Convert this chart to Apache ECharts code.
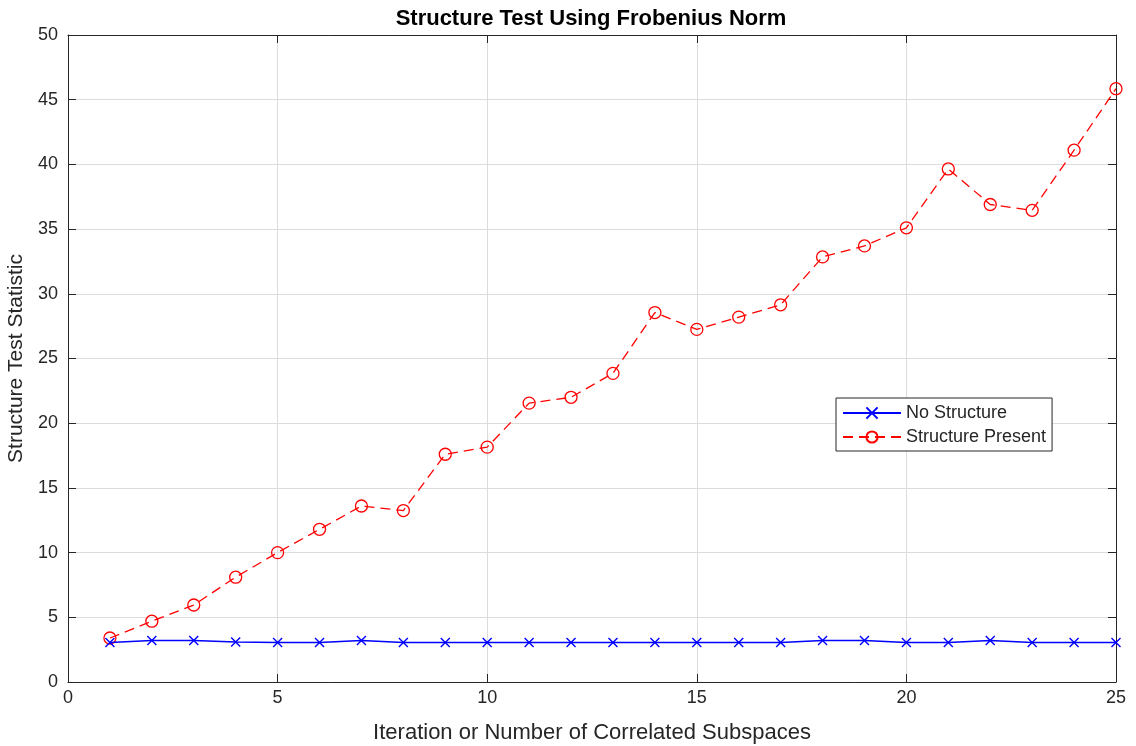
<!DOCTYPE html>
<html>
<head>
<meta charset="utf-8">
<script src="https://cdn.jsdelivr.net/npm/echarts@6/dist/echarts.min.js"></script>
<style>
  html, body { margin: 0; padding: 0; background: #fff; }
  #chart { width: 1136px; height: 746px; }
</style>
</head>
<body>
<div id="chart"></div>
<script>
// Iteration index (number of correlated subspaces)
const iterations = [1,2,3,4,5,6,7,8,9,10,11,12,13,14,15,16,17,18,19,20,21,22,23,24,25];
// Test statistic without correlated structure
const noStructure = [3.05,3.2,3.2,3.1,3.05,3.05,3.2,3.05,3.05,3.05,3.05,3.05,3.05,3.05,3.05,3.05,3.05,3.2,3.2,3.05,3.05,3.2,3.05,3.05,3.05];
// Test statistic with correlated structure present
const structurePresent = [3.4,4.7,5.95,8.1,10.0,11.8,13.6,13.25,17.6,18.15,21.55,22.0,23.85,28.55,27.25,28.2,29.15,32.85,33.7,35.1,39.65,36.9,36.45,41.1,45.85];
const xTicks = { min: 0, max: 25, step: 5 };
const yTicks = { min: 0, max: 50, step: 5 };

const axisColor = '#262626';
const textColor = '#262626';
const font = 'Liberation Sans, Arial, Helvetica, sans-serif';

const pairs = (xs, ys) => xs.map((x, i) => [x, ys[i]]);

const chart = echarts.init(document.getElementById('chart'), null, { renderer: 'canvas' });

const baseX = {
  type: 'value', min: xTicks.min, max: xTicks.max, interval: xTicks.step,
  axisLine: { show: true, onZero: false, lineStyle: { color: axisColor, width: 1 } },
  axisTick: { show: true, inside: true, length: 8, lineStyle: { color: axisColor } },
  splitLine: { show: false }
};
const baseY = {
  type: 'value', min: yTicks.min, max: yTicks.max, interval: yTicks.step,
  axisLine: { show: true, onZero: false, lineStyle: { color: axisColor, width: 1 } },
  axisTick: { show: true, inside: true, length: 8, lineStyle: { color: axisColor } },
  splitLine: { show: false }
};

chart.setOption({
  animation: false,
  backgroundColor: '#ffffff',
  title: {
    text: 'Structure Test Using Frobenius Norm',
    left: 586, top: 3, textAlign: 'center',
    textStyle: { fontFamily: font, fontSize: 22, fontWeight: 'bold', color: '#000' }
  },
  grid: { left: 68, right: 20, top: 35, bottom: 64, containLabel: false, outerBoundsMode: 'none' },
  legend: {
    orient: 'vertical',
    left: 836, top: 398,
    padding: [6, 6, 5, 6],
    itemGap: 6,
    itemWidth: 58, itemHeight: 14,
    backgroundColor: '#ffffff',
    borderColor: '#262626', borderWidth: 1, borderRadius: 0,
    textStyle: { fontFamily: font, fontSize: 18, color: textColor },
    data: ['No Structure', 'Structure Present']
  },
  xAxis: [
    Object.assign({}, baseX, {
      position: 'bottom',
      name: 'Iteration or Number of Correlated Subspaces',
      nameLocation: 'middle', nameGap: 40,
      nameTextStyle: { fontFamily: font, fontSize: 22, color: textColor },
      axisLabel: { show: true, margin: 7, fontFamily: font, fontSize: 18, color: textColor },
      splitLine: { show: true, lineStyle: { color: '#dcdcdc', width: 1 } }
    }),
    Object.assign({}, baseX, { position: 'top', axisLabel: { show: false } })
  ],
  yAxis: [
    Object.assign({}, baseY, {
      position: 'left',
      name: 'Structure Test Statistic',
      nameLocation: 'middle', nameGap: 40,
      nameTextStyle: { fontFamily: font, fontSize: 21, color: textColor },
      axisLabel: { show: true, margin: 10, fontFamily: font, fontSize: 18, color: textColor },
      splitLine: { show: true, lineStyle: { color: '#dcdcdc', width: 1 } }
    }),
    Object.assign({}, baseY, { position: 'right', axisLabel: { show: false } })
  ],
  series: [
    {
      name: 'No Structure',
      type: 'line',
      xAxisIndex: 0, yAxisIndex: 0,
      data: pairs(iterations, noStructure),
      symbol: 'path://M0,0L10,10M10,0L0,10',
      symbolSize: 9,
      showAllSymbol: true,
      itemStyle: { color: '#0000ff', borderColor: '#0000ff', borderWidth: 1.4 },
      lineStyle: { color: '#0000ff', width: 1.5, type: 'solid' },
      z: 3
    },
    {
      name: 'Structure Present',
      type: 'line',
      xAxisIndex: 0, yAxisIndex: 0,
      data: pairs(iterations, structurePresent),
      symbol: 'circle',
      symbolSize: 12,
      showAllSymbol: true,
      itemStyle: { color: 'rgba(255,255,255,0)', borderColor: '#ff0000', borderWidth: 1.3 },
      lineStyle: { color: '#ff0000', width: 1.3, type: [10, 6] },
      z: 2
    }
  ]
});
</script>
</body>
</html>
